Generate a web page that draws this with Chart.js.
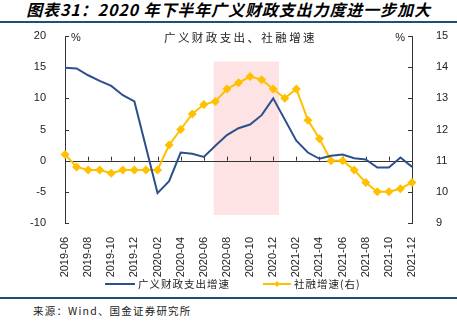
<!DOCTYPE html>
<html>
<head>
<meta charset="utf-8">
<script src="https://cdn.jsdelivr.net/npm/chart.js@4.4.0/dist/chart.umd.min.js"></script>
<style>
  html, body { margin: 0; padding: 0; background: #fff; }
  body { width: 457px; height: 324px; position: relative; overflow: hidden; font-family: "Noto Sans CJK SC", sans-serif; }
  #title { position: absolute; left: 0; top: 0; width: 457px; text-align: center; font-size: 16px; font-weight: bold; font-style: italic; line-height: 19px; color: #000; letter-spacing: 0.9px; }
  .rule { position: absolute; left: 0; width: 457px; height: 2px; background: #1f4e79; }
  #source { position: absolute; left: 33px; top: 303px; font-size: 10.5px; color: #222; letter-spacing: 1.2px; }
  #wrap { position: absolute; left: 0; top: 24px; width: 457px; height: 272px; }
</style>
</head>
<body>
<div id="title">图表31：2020 年下半年广义财政支出力度进一步加大</div>
<div class="rule" style="top:21px"></div>
<div id="wrap"><canvas id="chart"></canvas></div>
<div class="rule" style="top:297px"></div>
<div id="source">来源：Wind、国金证券研究所</div>

<script>
// 月份
const months = [
    '2019-06', '2019-07', '2019-08', '2019-09', '2019-10', '2019-11', '2019-12',
    '2020-01', '2020-02', '2020-03', '2020-04', '2020-05', '2020-06', '2020-07',
    '2020-08', '2020-09', '2020-10', '2020-11', '2020-12', '2021-01', '2021-02',
    '2021-03', '2021-04', '2021-05', '2021-06', '2021-07', '2021-08', '2021-09',
    '2021-10', '2021-11', '2021-12'
];

// 广义财政支出增速（左轴，%），1月与2月合并公布
const fiscalGrowth = [
    14.9, 14.8, 13.7, 12.8, 12.0, 10.5, 9.5,
    null, -5.2, -3.3, 1.3, 1.1, 0.6, 2.4,
    4.1, 5.2, 5.8, 7.3, 10.0, null, 3.2,
    1.3, 0.3, 0.8, 1.0, 0.4, 0.2, -1.1,
    -1.1, 0.5, -1.0
];

// 社融增速（右轴，%）
const socialFinancing = [
    11.2, 10.8, 10.7, 10.7, 10.6, 10.7, 10.7,
    10.7, 10.7, 11.5, 12.0, 12.5, 12.8, 12.9,
    13.3, 13.5, 13.7, 13.6, 13.3, 13.0, 13.3,
    12.3, 11.7, 11.0, 11.0, 10.7, 10.3, 10.0,
    10.0, 10.1, 10.3
];

// 坐标轴刻度
const leftTicks = [-10, -5, 0, 5, 10, 15, 20];
const rightTicks = [9, 10, 11, 12, 13, 14, 15];

// 阴影区间（2020年下半年）
const shadeStart = 12.85;
const shadeEnd = 18.5;

const BLUE = '#2d4f8e';
const YELLOW = '#ffc000';
const AXIS = '#333';
const TICK_FONT = { family: 'Liberation Sans, Arial, sans-serif', size: 11 };

/**
 * 自定义绘制：阴影、零轴、刻度、单位、图内标题、图例
 */
const decorPlugin = {
    id: 'decor',
    beforeDatasetsDraw(chart) {
        const ctx = chart.ctx;
        const x = chart.scales.x;
        const y = chart.scales.y;
        const x0 = x.getPixelForValue(shadeStart);
        const x1 = x.getPixelForValue(shadeEnd);
        const yTop = y.getPixelForValue(15.9);
        const yBot = y.getPixelForValue(-8.7);
        ctx.save();
        ctx.fillStyle = '#fde3e4';
        ctx.fillRect(x0, yTop, x1 - x0, yBot - yTop);

        // 零轴与刻度
        const area = chart.chartArea;
        const yZero = y.getPixelForValue(0);
        ctx.strokeStyle = AXIS;
        ctx.lineWidth = 1;
        ctx.beginPath();
        ctx.moveTo(area.left, Math.round(yZero) + 0.5);
        ctx.lineTo(area.right, Math.round(yZero) + 0.5);
        for (let i = 0; i < months.length; i += 2) {
            const px = Math.round(x.getPixelForValue(i)) + 0.5;
            ctx.moveTo(px, yZero);
            ctx.lineTo(px, yZero - 4);
        }
        // 左轴内刻度
        leftTicks.forEach(v => {
            const py = Math.round(y.getPixelForValue(v)) + 0.5;
            ctx.moveTo(area.left, py);
            ctx.lineTo(area.left + 4, py);
        });
        // 右轴内刻度
        const y1 = chart.scales.y1;
        rightTicks.forEach(v => {
            const py = Math.round(y1.getPixelForValue(v)) + 0.5;
            ctx.moveTo(area.right, py);
            ctx.lineTo(area.right - 4, py);
        });
        ctx.stroke();
        ctx.restore();
    },
    afterDraw(chart) {
        const ctx = chart.ctx;
        const area = chart.chartArea;
        ctx.save();
        ctx.fillStyle = '#222';
        ctx.textBaseline = 'middle';
        ctx.font = '11px "Liberation Sans", Arial, sans-serif';
        ctx.textAlign = 'left';
        ctx.fillText('%', area.left + 6, area.top + 2);
        ctx.textAlign = 'right';
        ctx.fillText('%', area.right - 7, area.top + 2);

        // 图内标题
        ctx.font = '11.5px "Noto Sans CJK SC", sans-serif';
        ctx.letterSpacing = '2.4px';
        ctx.textAlign = 'center';
        ctx.fillText('广义财政支出、社融增速', (area.left + area.right) / 2 + 2, area.top + 2);

        // 图例
        const ly = chart.height - 12;
        ctx.font = '10.5px "Noto Sans CJK SC", sans-serif';
        ctx.letterSpacing = '1px';
        ctx.textAlign = 'left';
        ctx.lineWidth = 2;
        ctx.strokeStyle = BLUE;
        ctx.beginPath();
        ctx.moveTo(105, ly);
        ctx.lineTo(135, ly);
        ctx.stroke();
        ctx.fillText('广义财政支出增速', 138, ly);

        ctx.strokeStyle = YELLOW;
        ctx.beginPath();
        ctx.moveTo(263, ly);
        ctx.lineTo(291, ly);
        ctx.stroke();
        ctx.fillStyle = YELLOW;
        ctx.beginPath();
        ctx.moveTo(277, ly - 3);
        ctx.lineTo(280, ly);
        ctx.lineTo(277, ly + 3);
        ctx.lineTo(274, ly);
        ctx.closePath();
        ctx.fill();
        ctx.fillStyle = '#222';
        ctx.fillText('社融增速(右)', 294, ly);
        ctx.restore();
    }
};

// 固定纵轴宽度，并去掉纵轴为标签预留的上下空白
function fixAxisWidth(width) {
    return function(scale) {
        scale.width = width;
        scale.paddingTop = 0;
        scale.paddingBottom = 0;
    };
}

document.addEventListener('DOMContentLoaded', function() {
    const ctx = document.getElementById('chart').getContext('2d');
    new Chart(ctx, {
        type: 'line',
        data: {
            labels: months,
            datasets: [{
                label: '广义财政支出增速',
                data: fiscalGrowth,
                yAxisID: 'y',
                borderColor: BLUE,
                backgroundColor: BLUE,
                borderWidth: 2,
                pointRadius: 0,
                spanGaps: true,
                tension: 0
            }, {
                label: '社融增速(右)',
                data: socialFinancing,
                yAxisID: 'y1',
                borderColor: YELLOW,
                backgroundColor: YELLOW,
                borderWidth: 2,
                pointStyle: 'rectRot',
                pointRadius: 4.5,
                pointBorderWidth: 0,
                tension: 0
            }]
        },
        options: {
            responsive: true,
            maintainAspectRatio: false,
            animation: false,
            devicePixelRatio: 1,
            layout: { padding: { top: 12, bottom: 0, left: 0, right: 0 } },
            plugins: {
                legend: { display: false },
                tooltip: { enabled: false }
            },
            scales: {
                x: {
                    offset: false,
                    grid: { display: false },
                    border: { display: false },
                    ticks: {
                        autoSkip: false,
                        maxRotation: 90,
                        minRotation: 90,
                        padding: 6,
                        color: '#222',
                        font: { family: 'Liberation Sans, Arial, sans-serif', size: 11 },
                        callback: function(value, index) {
                            return index % 2 === 0 ? months[index] : null;
                        }
                    },
                    afterFit(scale) { scale.height = 73; }
                },
                y: {
                    position: 'left',
                    min: -10,
                    max: 20,
                    grid: { display: false },
                    border: { display: true, color: AXIS, width: 1 },
                    ticks: {
                        stepSize: 5,
                        padding: 11,
                        color: '#222',
                        font: TICK_FONT
                    },
                    afterFit: fixAxisWidth(65)
                },
                y1: {
                    position: 'right',
                    min: 9,
                    max: 15,
                    grid: { display: false },
                    border: { display: true, color: AXIS, width: 1 },
                    ticks: {
                        stepSize: 1,
                        padding: 16,
                        color: '#222',
                        font: TICK_FONT
                    },
                    afterFit: fixAxisWidth(45)
                }
            }
        },
        plugins: [decorPlugin]
    });
});
</script>
</body>
</html>
